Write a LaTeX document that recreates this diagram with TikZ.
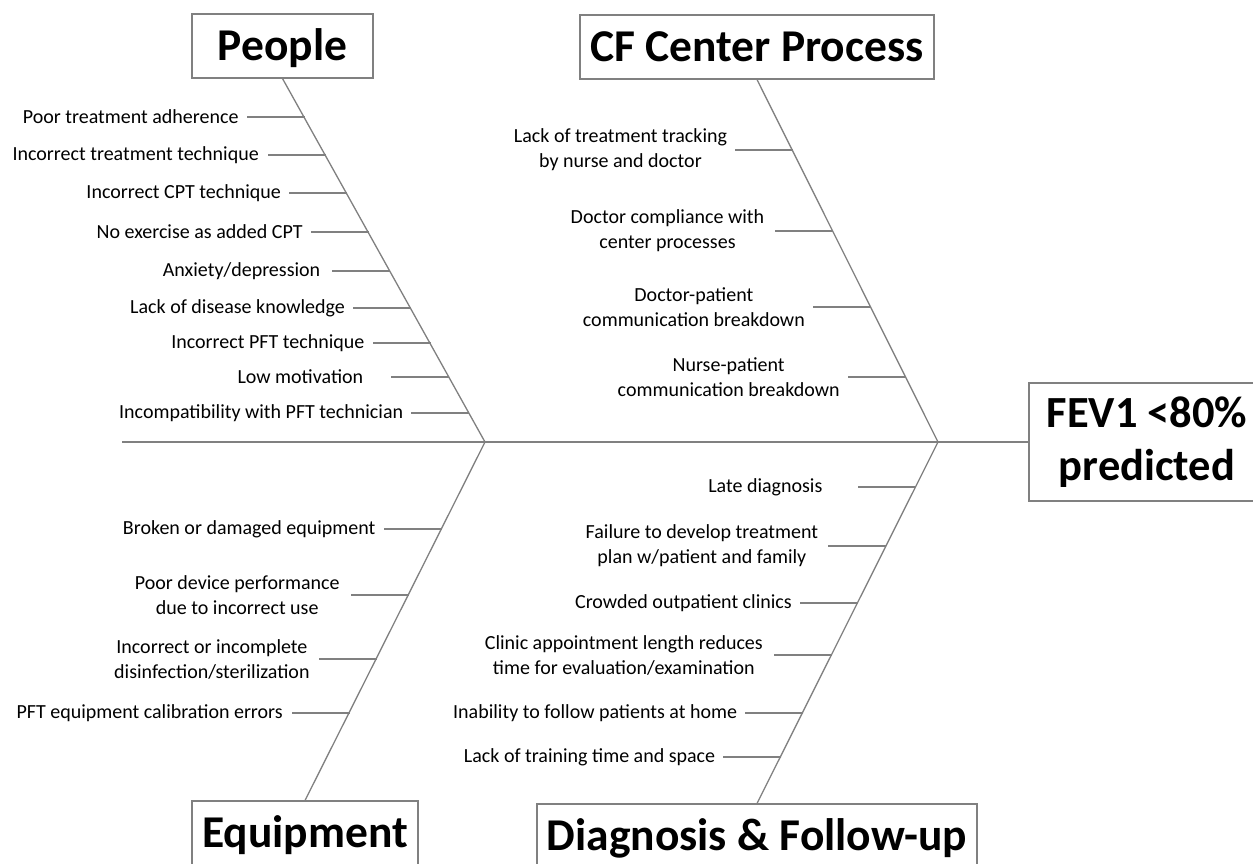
\documentclass[tikz,border=0pt]{standalone}
\usepackage{fontspec}
\setmainfont{Carlito}
\usepackage{tikz}
\usetikzlibrary{positioning}
\definecolor{bonegray}{RGB}{128,128,128}
\tikzset{%
	bone/.style={draw=bonegray, line width=1.3pt},
	twig/.style={draw=bonegray, line width=1.1pt}
}
\tikzset{cause/.style={font=\fontsize{20}{25}\selectfont, align=center, inner sep=0pt}}
\tikzset{%
	category/.style={
		draw=bonegray, line width=1.1pt,
		font=\fontsize{45.5}{54}\selectfont\bfseries,
		text height=37pt, text depth=8pt,
		inner sep=0pt, minimum height=64pt
	}
}

\begin{document}
\begin{tikzpicture}[x=1pt, y=-1pt]
		\clip (0,0) rectangle (1253,863);
		\fill[white] (0,0) rectangle (1253,863);

		% Category boxes and the effect
		\node[category, minimum width=181pt] (people) at (282.5,46) {People};
		\node[category, minimum width=354pt] (center) at (757,47) {CF Center Process};
		\node[category, minimum width=226pt] (equip) at (305,833) {Equipment};
		\node[category, minimum width=440pt] (diag) at (757,836) {Diagnosis \& Follow-up};
		\node[draw=bonegray, line width=1.1pt, font=\fontsize{44.5}{53}\selectfont\bfseries, align=center,
			inner sep=0pt, minimum width=236pt, minimum height=118pt] (fev) at (1147,442) {FEV1 <80\%\\predicted};

		\coordinate (tail) at (122,442);
		\coordinate (jleft) at (485,442);
		\coordinate (jright) at (938,442);

		\draw[bone] (tail) -- (fev.west);
		\draw[bone] (people.south) -- (jleft) -- (equip.north);
		\draw[bone] (center.south) -- (jright) -- (diag.north);

		% People
		\coordinate (p1) at (304.7,117);	\node[cause, left=66pt of p1] (p1t) {Poor treatment adherence};
		\coordinate (p2) at (325.9,155);	\node[cause, left=67pt of p2] (p2t) {Incorrect treatment technique};
		\coordinate (p3) at (347,193);		\node[cause, left=66pt of p3] (p3t) {Incorrect CPT technique};
		\coordinate (p4) at (368.7,232);	\node[cause, left=66pt of p4] (p4t) {No exercise as added CPT};
		\coordinate (p5) at (390.4,271);	\node[cause, left=70pt of p5] (p5t) {Anxiety/depression};
		\coordinate (p6) at (411,308);		\node[cause, left=66pt of p6] (p6t) {Lack of disease knowledge};
		\coordinate (p7) at (430.5,343);	\node[cause, left=66pt of p7] (p7t) {Incorrect PFT technique};
		\coordinate (p8) at (449.4,377);	\node[cause, left=86pt of p8] (p8t) {Low motivation};
		\coordinate (p9) at (469.4,413);	\node[cause, left=66pt of p9] (p9t) {Incompatibility with PFT technician};
		\draw[twig] (p1) -- +(-58,0);
		\draw[twig] (p2) -- +(-58,0);
		\draw[twig] (p3) -- +(-58,0);
		\draw[twig] (p4) -- +(-58,0);
		\draw[twig] (p5) -- +(-58,0);
		\draw[twig] (p6) -- +(-58,0);
		\draw[twig] (p7) -- +(-58,0);
		\draw[twig] (p8) -- +(-58,0);
		\draw[twig] (p9) -- +(-58,0);

		% CF Center Process
		\coordinate (c1) at (793.2,150);	\node[cause, left=66pt of c1] (c1t) {Lack of treatment tracking\\by nurse and doctor};
		\coordinate (c2) at (833.4,231);	\node[cause, left=69pt of c2] (c2t) {Doctor compliance with\\center processes};
		\coordinate (c3) at (871,307);		\node[cause, left=66pt of c3] (c3t) {Doctor-patient\\communication breakdown};
		\coordinate (c4) at (905.8,377);	\node[cause, left=66pt of c4] (c4t) {Nurse-patient\\communication breakdown};
		\draw[twig] (c1) -- +(-58,0);
		\draw[twig] (c2) -- +(-58,0);
		\draw[twig] (c3) -- +(-58,0);
		\draw[twig] (c4) -- +(-58,0);

		% Equipment
		\coordinate (e1) at (441.6,529);	\node[cause, left=66pt of e1] (e1t) {Broken or damaged equipment};
		\coordinate (e2) at (408.7,595);	\node[cause, left=69pt of e2] (e2t) {Poor device performance\\due to incorrect use};
		\coordinate (e3) at (376.8,659);	\node[cause, left=67pt of e3] (e3t) {Incorrect or incomplete\\disinfection/sterilization};
		\coordinate (e4) at (349.9,713);	\node[cause, left=67pt of e4] (e4t) {PFT equipment calibration errors};
		\draw[twig] (e1) -- +(-58,0);
		\draw[twig] (e2) -- +(-58,0);
		\draw[twig] (e3) -- +(-58,0);
		\draw[twig] (e4) -- +(-58,0);

		% Diagnosis & Follow-up
		\coordinate (d1) at (915.6,487);	\node[cause, left=93pt of d1] (d1t) {Late diagnosis};
		\coordinate (d2) at (886.3,546);	\node[cause, left=68pt of d2] (d2t) {Failure to develop treatment\\plan w/patient and family};
		\coordinate (d3) at (858,603);		\node[cause, left=66pt of d3] (d3t) {Crowded outpatient clinics};
		\coordinate (d4) at (832,655);		\node[cause, left=69pt of d4] (d4t) {Clinic appointment length reduces\\time for evaluation/examination};
		\coordinate (d5) at (803.3,713);	\node[cause, left=66pt of d5] (d5t) {Inability to follow patients at home};
		\coordinate (d6) at (781.4,757);	\node[cause, left=66pt of d6] (d6t) {Lack of training time and space};
		\draw[twig] (d1) -- +(-58,0);
		\draw[twig] (d2) -- +(-58,0);
		\draw[twig] (d3) -- +(-58,0);
		\draw[twig] (d4) -- +(-58,0);
		\draw[twig] (d5) -- +(-58,0);
		\draw[twig] (d6) -- +(-58,0);

\end{tikzpicture}
\end{document}
